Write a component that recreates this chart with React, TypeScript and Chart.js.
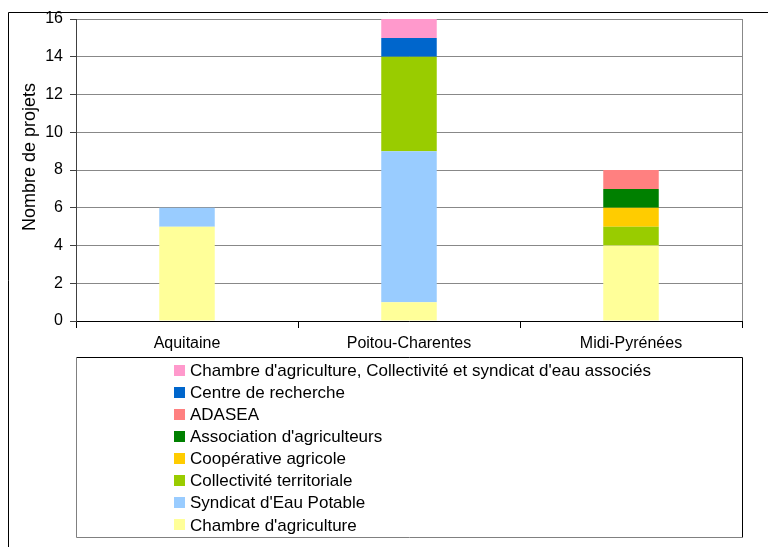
import React, { useEffect, useRef } from "react";
import { Chart, registerables } from "chart.js";

Chart.register(...registerables);

const regions = ["Aquitaine", "Poitou-Charentes", "Midi-Pyrénées"];

const seriesNames = [
  "Chambre d'agriculture",
  "Syndicat d'Eau Potable",
  "Collectivité territoriale",
  "Coopérative agricole",
  "Association d'agriculteurs",
  "ADASEA",
  "Centre de recherche",
  "Chambre d'agriculture, Collectivité et syndicat d'eau associés",
];

const chambreAgriculture = [5, 1, 4];
const syndicatEau = [1, 8, 0];
const collectivite = [0, 5, 1];
const cooperative = [0, 0, 1];
const associationAgri = [0, 0, 1];
const adasea = [0, 0, 1];
const centreRecherche = [0, 1, 0];
const chambreAssocies = [0, 1, 0];

const seriesValues = [
  chambreAgriculture,
  syndicatEau,
  collectivite,
  cooperative,
  associationAgri,
  adasea,
  centreRecherche,
  chambreAssocies,
];

const seriesColors = [
  "#FFFF99",
  "#99CCFF",
  "#99CC00",
  "#FFCC00",
  "#008000",
  "#FF8080",
  "#0066CC",
  "#FF99CC",
];

const yTitle = "Nombre de projets";
const FONT = "'Liberation Sans', Arial, sans-serif";

const decorPlugin = {
  id: "decor",
  beforeDraw(chart: any) {
    const ctx = chart.ctx;
    ctx.save();
    ctx.fillStyle = "#ffffff";
    ctx.fillRect(0, 0, chart.width, chart.height);
    ctx.restore();
  },
  afterDraw(chart: any) {
    const ctx = chart.ctx;
    const ca = chart.chartArea;
    ctx.save();
    // outer frame
    ctx.strokeStyle = "#000";
    ctx.lineWidth = 1;
    ctx.beginPath();
    ctx.moveTo(8.5, chart.height + 2);
    ctx.lineTo(8.5, 12.5);
    ctx.lineTo(chart.width + 2, 12.5);
    ctx.stroke();
    // plot right border
    ctx.strokeStyle = "#888";
    ctx.beginPath();
    ctx.moveTo(Math.round(ca.right) + 0.5, ca.top);
    ctx.lineTo(Math.round(ca.right) + 0.5, ca.bottom);
    ctx.stroke();
    // y title
    ctx.fillStyle = "#000";
    ctx.font = `18px ${FONT}`;
    ctx.textAlign = "center";
    ctx.textBaseline = "middle";
    ctx.translate(30, 157);
    ctx.rotate(-Math.PI / 2);
    ctx.fillText(yTitle, 0, 0);
    ctx.restore();

    // legend
    const bx = 76.5, by = 357.5, bw = 666, bh = 180;
    ctx.save();
    ctx.lineWidth = 1;
    ctx.strokeStyle = "#000";
    ctx.beginPath();
    ctx.moveTo(bx, by);
    ctx.lineTo(bx + bw, by);
    ctx.lineTo(bx + bw, by + bh);
    ctx.stroke();
    ctx.strokeStyle = "#808080";
    ctx.beginPath();
    ctx.moveTo(bx, by);
    ctx.lineTo(bx, by + bh);
    ctx.lineTo(bx + bw, by + bh);
    ctx.stroke();
    ctx.font = `17px ${FONT}`;
    ctx.textAlign = "left";
    ctx.textBaseline = "middle";
    const ds = chart.data.datasets;
    for (let i = 0; i < ds.length; i++) {
      const d = ds[ds.length - 1 - i];
      const cy = 370.5 + i * 22.05;
      ctx.fillStyle = d.backgroundColor;
      ctx.fillRect(174, Math.round(cy - 5.5), 11, 11);
      ctx.fillStyle = "#000";
      ctx.fillText(d.label, 190, cy + 1);
    }
    ctx.restore();
  },
};

export default function App() {
  const ref = useRef<HTMLCanvasElement | null>(null);
  useEffect(() => {
    if (!ref.current) return;
    const chart = new Chart(ref.current, {
      type: "bar",
      data: {
        labels: regions,
        datasets: seriesNames.map((name, i) => ({
          label: name,
          data: seriesValues[i],
          backgroundColor: seriesColors[i],
          borderWidth: 0,
          barPercentage: 0.25,
          categoryPercentage: 1,
          stack: "s",
        })),
      },
      options: {
        animation: false,
        responsive: false,
        devicePixelRatio: 1,
        layout: { padding: { top: 19, right: 26, left: 0, bottom: 0 } },
        plugins: { legend: { display: false }, tooltip: { enabled: false }, title: { display: false } },
        scales: {
          x: {
            stacked: true,
            offset: true,
            grid: {
              display: true,
              offset: true,
              drawOnChartArea: false,
              drawTicks: true,
              tickLength: 7,
              color: "#000",
            },
            border: { color: "#000" },
            ticks: { color: "#000", font: { family: FONT, size: 16 }, padding: 6 },
            afterFit: (s: any) => {
              s.height = 226;
            },
          },
          y: {
            stacked: true,
            min: 0,
            max: 16,
            ticks: { stepSize: 2, color: "#000", font: { family: FONT, size: 16 }, padding: 7 },
            grid: { color: "#888", tickLength: 6, tickColor: "#404040" },
            border: { color: "#404040" },
            afterFit: (s: any) => {
              s.width = 76;
            },
          },
        },
      },
      plugins: [decorPlugin],
    });
    return () => chart.destroy();
  }, []);
  return (
    <div style={{ position: "absolute", left: 0, top: 0, width: 768, height: 547 }}>
      <canvas ref={ref} width={768} height={547} style={{ display: "block" }} />
    </div>
  );
}
